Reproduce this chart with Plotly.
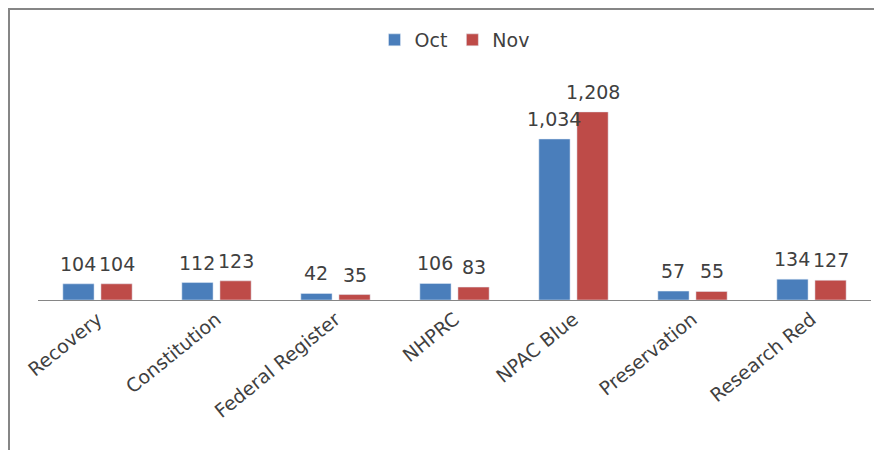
import plotly.graph_objects as go

# Data
categories = ["Recovery", "Constitution", "Federal Register", "NHPRC",
              "NPAC Blue", "Preservation", "Research Red"]
oct_values = [104, 112, 42, 106, 1034, 57, 134]
nov_values = [104, 123, 35, 83, 1208, 55, 127]

# the page body adds 8px around the figure
W, H = 874, 442
L, R, T, B = 30, 11, 74, 150
pw = W - L - R
ph = H - T - B
BARGAP = 0.36

font = "DejaVu Sans, sans-serif"
txt = "#404040"

fig = go.Figure()
fig.add_trace(go.Bar(x=categories, y=oct_values, name="Oct", marker_color="#4A7EBB"))
fig.add_trace(go.Bar(x=categories, y=nov_values, name="Nov", marker_color="#BE4B48"))

# value labels as annotations so they sit on top of the neighbouring bar
shift = pw / len(categories) * (1 - BARGAP) / 4
for vals, dx in ((oct_values, -shift), (nov_values, shift)):
    for c, v in zip(categories, vals):
        fig.add_annotation(x=c, y=v, text=f"{v:,}", showarrow=False, xshift=dx,
                           yanchor="bottom", yshift=7,
                           font=dict(size=19, color=txt, family=font))


def px_x(p):
    return (p - L) / pw


def px_y(p):
    return (H - B - p) / ph


# outer frame (top and left edges)
frame = dict(type="line", xref="paper", yref="paper", line=dict(color="#868686", width=2))
fig.add_shape(**frame, x0=px_x(0), x1=px_x(W + 10), y0=px_y(1), y1=px_y(1))
fig.add_shape(**frame, x0=px_x(1), x1=px_x(1), y0=px_y(0), y1=px_y(H + 10))

fig.update_layout(
    width=W, height=H,
    margin=dict(l=L, r=R, t=T, b=B),
    paper_bgcolor="white", plot_bgcolor="white",
    barmode="group", bargap=BARGAP, bargroupgap=0.18,
    font=dict(family=font, color=txt),
    legend=dict(orientation="h", x=0.5, xanchor="center", y=px_y(32), yanchor="middle",
                font=dict(size=19, color=txt), itemwidth=30, traceorder="normal"),
    xaxis=dict(tickangle=-39, tickfont=dict(size=19, color=txt), showline=True,
               linecolor="#868686", linewidth=1, ticks="", showgrid=False),
    yaxis=dict(range=[0, 1400], visible=False, showgrid=False),
)

fig.write_html("out.html")
